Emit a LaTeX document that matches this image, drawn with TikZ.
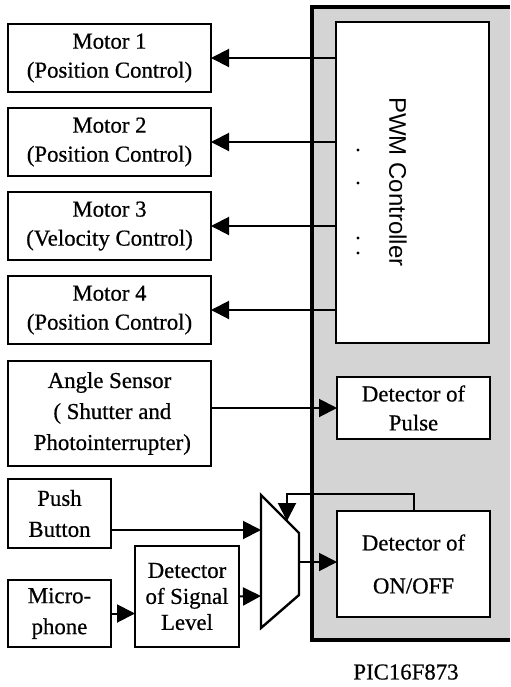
\documentclass[tikz,border=0pt]{standalone}
\usepackage{fontspec}
\setmainfont{Liberation Serif}[FakeBold=0.6]
\newfontfamily\pwmfont{Liberation Sans}
\usetikzlibrary{arrows.meta,positioning}

\begin{document}
\begin{tikzpicture}[
    x=0.5pt, y=-0.5pt,
    font=\fontsize{11.4}{14.5}\selectfont,
    box/.style={draw, line width=1.2pt, align=center, inner sep=0pt, outer sep=0pt},
    motor/.style={box, minimum width=101.5pt, minimum height=34pt},
    det/.style={box, fill=white, line width=1.4pt, minimum width=76.5pt},
    sig/.style={line width=1pt, -{Triangle[length=9pt,width=9pt]}},
    node distance=8pt
]
  \useasboundingbox (0,0) rectangle (510,687);
  % the chip
  \fill[black!17] (312,7) rectangle (510,640);
  \draw[line width=2pt] (510,7) -- (312,7) -- (312,640) -- (510,640);
  \node (pic) at (406,672) {PIC16F873};

  \node[det, minimum height=160.5pt] (pwm) at (412.5,182.5) {};
  \node[rotate=-90, font=\pwmfont\fontsize{12}{14}\selectfont] (pwmlabel) at (398,182) {PWM Controller};
  \foreach \y in {150,183,238,253}
    \fill (358,\y) circle (0.8pt);
  \node[det, minimum height=31pt] (pulse) at (413.5,408) {Detector of\\Pulse};
  \node[det, minimum height=53pt] (onoff) at (413.5,564) {Detector of\\[7pt]ON/OFF};

  \node[motor] (m1) at (109.5,58) {Motor 1\\(Position Control)};
  \node[motor, below=of m1] (m2) {Motor 2\\(Position Control)};
  \node[motor, below=of m2] (m3) {Motor 3\\(Velocity Control)};
  \node[motor, below=of m3] (m4) {Motor 4\\(Position Control)};
  \node[motor, below=8.5pt of m4, minimum height=52.5pt] (angle)
    {Angle Sensor\\[1pt]\ ( Shutter and\\[1pt]\ Photointerrupter)};

  \node[box, minimum width=51.5pt, minimum height=34.5pt] (push) at (59.5,513.5) {Push\\[1pt]Button};
  \node[box, minimum width=51.5pt, minimum height=33.5pt] (mic) at (59.5,613.5) {Micro-\\[1pt]phone};
  \node[box, minimum width=52pt, minimum height=50.5pt, font=\fontsize{11.4}{13}\selectfont] (level)
    at (187,596.5) {Detector\\of Signal\\Level};

  % selector
  \draw[line width=1.2pt] (261,495) -- (299,533) -- (299,595) -- (261,628) -- cycle;
  \coordinate (muxa) at (261,530);
  \coordinate (muxb) at (261,596);
  \coordinate (muxout) at (299,562);
  \coordinate (muxsel) at (287,521);
  \coordinate (fb) at (287,494);

  \foreach \m in {m1,m2,m3,m4}
    \draw[sig] (pwm.west |- \m.east) -- (\m.east);
  \draw[sig] (angle.east |- pulse.west) -- (pulse.west);
  \draw[sig] (push.east |- muxa) -- (muxa);
  \draw[sig] (mic.east) -- (level.west |- mic.east);
  \draw[sig] (level.east) -- (muxb);
  \draw[sig] (muxout) -- (onoff.west |- muxout);
  \draw[sig] (onoff.north) |- (fb) -- (muxsel);
\end{tikzpicture}
\end{document}
